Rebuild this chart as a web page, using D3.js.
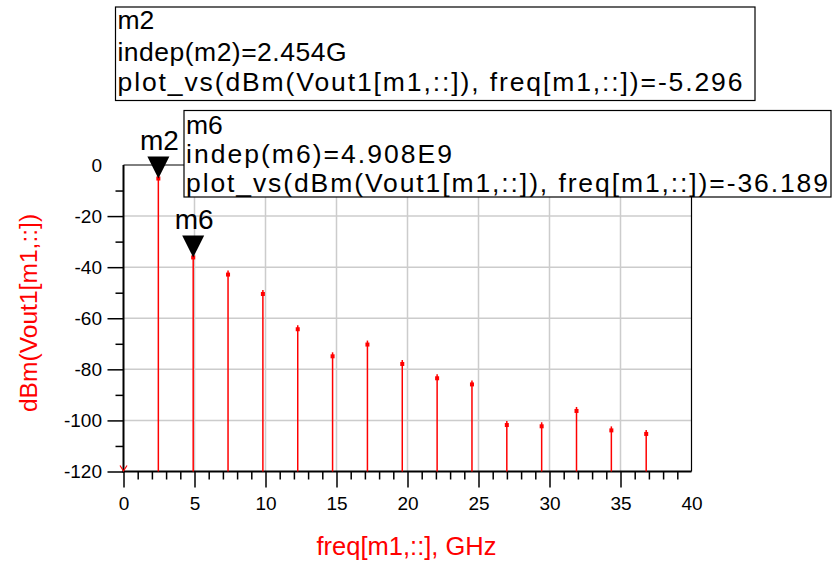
<!DOCTYPE html>
<html>
<head>
<meta charset="utf-8">
<script src="https://cdn.jsdelivr.net/npm/d3@7"></script>
<style>
  html, body { margin: 0; padding: 0; background: #fff; }
  svg { display: block; font-family: Arial, "Liberation Sans", sans-serif; }
</style>
</head>
<body>
<svg id="chart" width="833" height="565"></svg>
<script>
// ---- data ----
const freqGHz = [2.454, 4.908, 7.362, 9.816, 12.27, 14.724, 17.178, 19.632, 22.086, 24.54, 26.994, 29.448, 31.902, 34.356, 36.81];
const powerDBm = [-5.296, -36.189, -42.9, -50.5, -64.3, -74.9, -70.3, -77.9, -83.5, -85.9, -101.8, -102.3, -96.3, -103.9, -105.3];
const dcFreq = [0];
const xMajorTicks = [0, 5, 10, 15, 20, 25, 30, 35, 40];
const yMajorTicks = [-120, -100, -80, -60, -40, -20, 0];
const markerNames = ["m2", "m6"];
const markerIndex = [0, 1];
const markerIndepText = ["2.454G", "4.908E9"];
const markerValueText = ["-5.296", "-36.189"];
const xTitle = "freq[m1,::], GHz";
const yTitle = "dBm(Vout1[m1,::])";

// ---- layout ----
const L = 123.5, R = 691.5, T = 165, B = 471.5;
const svg = d3.select("#chart");
const x = d3.scaleLinear().domain([0, 40]).range([L, R]);
const y = d3.scaleLinear().domain([-120, 0]).range([B, T]);
const red = "#ff0000";
const FONT = "Arial, 'Liberation Sans', sans-serif";

// grid
const g = svg.append("g");
g.selectAll(".vg").data(xMajorTicks.filter(d => d > 0 && d < 40)).join("line")
  .attr("x1", d => x(d)).attr("x2", d => x(d)).attr("y1", T).attr("y2", B)
  .attr("stroke", "#cccccc").attr("stroke-width", 1.5);
g.selectAll(".hg").data(yMajorTicks.filter(d => d > -120 && d < 0)).join("line")
  .attr("x1", L).attr("x2", R).attr("y1", d => y(d)).attr("y2", d => y(d))
  .attr("stroke", "#cccccc").attr("stroke-width", 1.5);

// frame top/right
svg.append("line").attr("x1", L).attr("x2", R).attr("y1", T).attr("y2", T).attr("stroke", "#000").attr("stroke-width", 1);
svg.append("line").attr("x1", R).attr("x2", R).attr("y1", T).attr("y2", B).attr("stroke", "#000").attr("stroke-width", 1.2);

// axes
const minorX = d3.range(0, 40, 1).filter(d => d % 5 !== 0);
const minorY = d3.range(-110, 0, 20);

const axX = svg.append("g").attr("transform", `translate(0,${B})`)
  .call(d3.axisBottom(x).tickValues(xMajorTicks).tickSize(16).tickSizeOuter(0).tickPadding(9).tickFormat(d3.format("d")));
axX.select(".domain").remove();
axX.selectAll(".tick line").attr("stroke", "#000").attr("stroke-width", 1.5)
  .filter(d => d === 40).remove();
axX.selectAll(".tick text").attr("font-size", 19).attr("fill", "#000").attr("font-family", FONT);

const axXm = svg.append("g").attr("transform", `translate(0,${B})`)
  .call(d3.axisBottom(x).tickValues(minorX).tickSize(8).tickFormat(""));
axXm.select(".domain").remove();
axXm.selectAll(".tick line").attr("stroke", "#000").attr("stroke-width", 1.5);

const axY = svg.append("g").attr("transform", `translate(${L},0)`)
  .call(d3.axisLeft(y).tickValues(yMajorTicks).tickSize(16).tickSizeOuter(0).tickPadding(5.5).tickFormat(d3.format("d")));
axY.select(".domain").remove();
axY.selectAll(".tick line").attr("stroke", "#000").attr("stroke-width", 1.5)
  .filter(d => d === 0).remove();
axY.selectAll(".tick text").attr("font-size", 19).attr("fill", "#000").attr("font-family", FONT)
  .text(d => d < 0 ? "-" + Math.abs(d) : d);

const axYm = svg.append("g").attr("transform", `translate(${L},0)`)
  .call(d3.axisLeft(y).tickValues(minorY).tickSize(8).tickFormat(""));
axYm.select(".domain").remove();
axYm.selectAll(".tick line").attr("stroke", "#000").attr("stroke-width", 1.5);

// left & bottom axis lines
svg.append("line").attr("x1", L).attr("x2", L).attr("y1", T).attr("y2", B + 1).attr("stroke", "#000").attr("stroke-width", 2);
svg.append("line").attr("x1", L - 1).attr("x2", R).attr("y1", B).attr("y2", B).attr("stroke", "#000").attr("stroke-width", 2);

// stems
const pts = freqGHz.map((f, i) => ({ f, v: powerDBm[i] }));
svg.selectAll(".stem").data(pts).join("line")
  .attr("x1", d => x(d.f)).attr("x2", d => x(d.f))
  .attr("y1", y(-120)).attr("y2", d => y(d.v))
  .attr("stroke", red).attr("stroke-width", 1.5);
svg.selectAll(".dot").data(pts).join("rect")
  .attr("x", d => x(d.f) - 2).attr("y", d => y(d.v) - 2)
  .attr("width", 4).attr("height", 4).attr("fill", red);
svg.selectAll(".dotc").data(pts).join("line")
  .attr("x1", d => x(d.f)).attr("x2", d => x(d.f))
  .attr("y1", d => y(d.v) - 4).attr("y2", d => y(d.v))
  .attr("stroke", red).attr("stroke-width", 1.5);

// DC point below range indicator
svg.selectAll(".dc").data(dcFreq).join("path")
  .attr("d", d => `M${x(d) - 3.5},${y(-120) - 6} L${x(d)},${y(-120) - 0.5} L${x(d) + 3.5},${y(-120) - 6}`)
  .attr("fill", "none").attr("stroke", red).attr("stroke-width", 1.2);

// marker triangles and labels
markerNames.forEach((name, k) => {
  const p = pts[markerIndex[k]];
  const cx = x(p.f), cy = y(p.v);
  svg.append("path")
    .attr("d", `M${cx - 11},${cy - 22} L${cx + 11},${cy - 22} L${cx},${cy} Z`)
    .attr("fill", "#000");
  svg.append("text").attr("x", cx + 1).attr("y", cy - 28.5)
    .attr("text-anchor", "middle").attr("font-size", 28).attr("fill", "#000").text(name);
});

// marker readout boxes
const boxes = [
  { x0: 115.5, y0: 7, x1: 755, y1: 100.5, tx: 117.5, base: [28.5, 61, 91], w2: 229, w3: 625 },
  { x0: 184, y0: 110.5, x1: 831, y1: 197, tx: 186, base: [134, 163, 191.5], w2: 266, w3: 642 }
];
boxes.forEach((b, k) => {
  svg.append("rect").attr("x", b.x0).attr("y", b.y0).attr("width", b.x1 - b.x0).attr("height", b.y1 - b.y0)
    .attr("fill", "#fff").attr("stroke", "#000").attr("stroke-width", 1.2);
  const lines = [
    markerNames[k],
    `indep(${markerNames[k]})=${markerIndepText[k]}`,
    `plot_vs(dBm(Vout1[m1,::]), freq[m1,::])=${markerValueText[k]}`
  ];
  lines.forEach((t, i) => {
    const tx = svg.append("text").attr("x", b.tx).attr("y", b.base[i])
      .attr("font-size", 26.5).attr("fill", "#000").text(t);
    if (i === 1) tx.attr("textLength", b.w2).attr("lengthAdjust", "spacing");
    if (i === 2) tx.attr("textLength", b.w3).attr("lengthAdjust", "spacing");
  });
});

// axis titles
svg.append("text").attr("x", 406.5).attr("y", 555).attr("text-anchor", "middle")
  .attr("font-size", 25.5).attr("fill", red).text(xTitle);
svg.append("text").attr("transform", "translate(37,313) rotate(-90)").attr("text-anchor", "middle")
  .attr("font-size", 24.6).attr("fill", red).text(yTitle);
</script>
</body>
</html>
